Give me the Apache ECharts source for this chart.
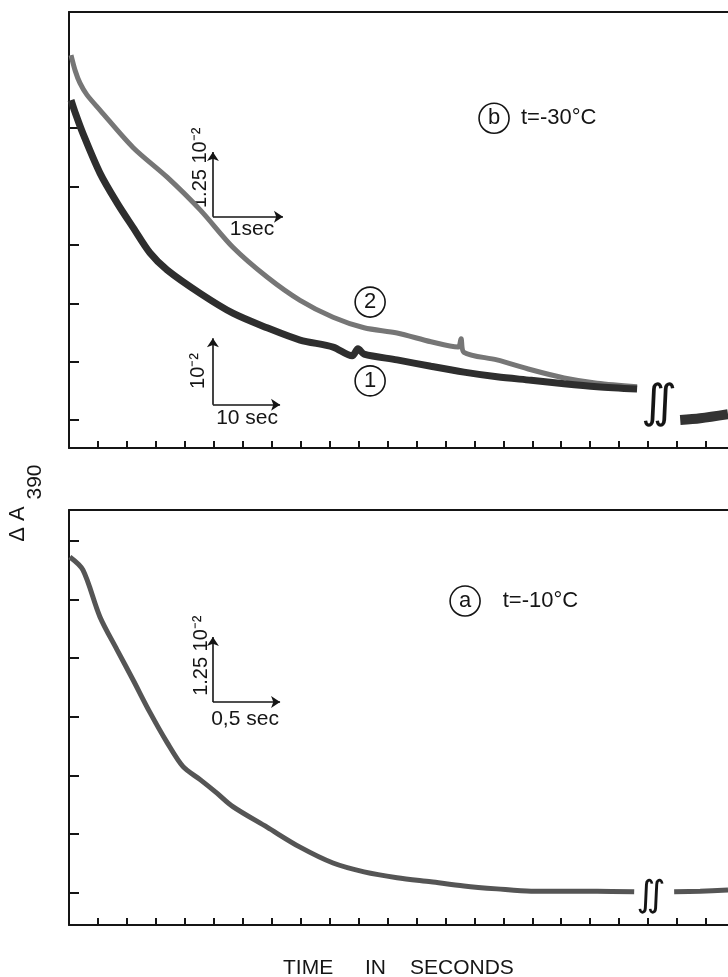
<!DOCTYPE html>
<html>
<head>
<meta charset="utf-8">
<title>ΔA390 - time in seconds</title>
<script src="https://cdn.jsdelivr.net/npm/echarts@6/dist/echarts.min.js"></script>
<style>
  html, body { margin: 0; padding: 0; background: #fff; }
  #chart { width: 728px; height: 977px; }
</style>
</head>
<body>
<div id="chart"></div>
<script>
// time in divisions of the recorder chart, absorbance in divisions of the y ticks
var xTicks = [1, 2, 3, 4, 5, 6, 7, 8, 9, 10, 11, 12, 13, 14, 15, 16, 17, 18, 19, 20, 21, 22];
var topTicks = [0, 1, 2, 3, 4, 5];
var bottomTicks = [0, 1, 2, 3, 4, 5, 6];

// (b) t = -30 °C, trace 1
var b1Time = [0.07, 0.21, 0.48, 1.07, 1.66, 2.21, 2.80, 3.39, 4.53, 5.66, 6.84, 7.98, 9.12, 9.78, 9.98, 10.19, 11.33, 12.50, 13.64, 14.78, 15.96, 17.10, 18.24, 19.62];
var b1Abs  = [5.48, 5.27, 4.91, 4.23, 3.72, 3.30, 2.86, 2.57, 2.17, 1.83, 1.58, 1.37, 1.25, 1.10, 1.22, 1.13, 1.03, 0.92, 0.82, 0.74, 0.68, 0.62, 0.57, 0.53];
// (b) trace 2
var b2Time = [0.07, 0.21, 0.38, 0.62, 1.07, 2.21, 3.39, 4.53, 5.66, 6.84, 7.98, 9.12, 10.19, 11.33, 12.50, 13.44, 13.54, 13.64, 14.78, 15.96, 17.10, 18.24, 19.62];
var b2Abs  = [6.25, 5.99, 5.77, 5.57, 5.31, 4.67, 4.16, 3.60, 2.96, 2.45, 2.05, 1.76, 1.58, 1.49, 1.34, 1.25, 1.39, 1.16, 1.03, 0.86, 0.72, 0.63, 0.57];
// (b) after the time break
var bTailTime = [21.11, 21.80, 22.76];
var bTailAbs  = [0.00, 0.03, 0.10];

// (a) t = -10 °C
var aTime = [0.03, 0.48, 1.07, 1.66, 2.21, 2.80, 3.39, 3.94, 4.53, 5.11, 5.66, 6.84, 7.98, 9.12, 10.19, 11.33, 12.50, 13.64, 14.78, 15.96, 17.10, 18.24, 19.52];
var aAbs  = [5.72, 5.50, 4.70, 4.14, 3.63, 3.07, 2.56, 2.15, 1.93, 1.70, 1.47, 1.12, 0.78, 0.51, 0.36, 0.26, 0.19, 0.12, 0.07, 0.03, 0.03, 0.03, 0.02];
var aTailTime = [20.90, 21.80, 22.76];
var aTailAbs  = [0.02, 0.03, 0.05];

function zip(xs, ys) {
    return xs.map(function (x, i) { return [x, ys[i]]; });
}

var ink = '#151515';
var font = "'Liberation Sans', Arial, sans-serif";

function xAxisOf(grid) {
    return {
        gridIndex: grid,
        type: 'value',
        min: 0,
        max: 22.76,
        axisLine: {show: true, onZero: false, lineStyle: {color: ink, width: 2}},
        axisTick: {show: true, inside: true, length: 7, customValues: xTicks, lineStyle: {color: ink, width: 2}},
        axisLabel: {show: false},
        splitLine: {show: false}
    };
}

function topBorder(grid) {
    return {
        gridIndex: grid, type: 'value', position: 'top', min: 0, max: 22.76,
        axisLine: {show: true, onZero: false, lineStyle: {color: ink, width: 2}},
        axisTick: {show: false}, axisLabel: {show: false}, splitLine: {show: false}
    };
}

function yAxisOf(grid, min, max, ticks) {
    return {
        gridIndex: grid, type: 'value', min: min, max: max,
        axisLine: {show: true, onZero: false, lineStyle: {color: ink, width: 2}},
        axisTick: {show: true, inside: true, length: 10, customValues: ticks, lineStyle: {color: ink, width: 2}},
        axisLabel: {show: false},
        splitLine: {show: false}
    };
}

function trace(xi, yi, data, width, color) {
    return {
        type: 'line', xAxisIndex: xi, yAxisIndex: yi, data: data,
        showSymbol: false, smooth: 0.3, silent: true,
        lineStyle: {width: width, color: color}
    };
}

function textLabel(pos, text, size, rotate, align) {
    return {
        value: pos, symbolSize: 1,
        itemStyle: {color: 'rgba(0,0,0,0)', opacity: 1},
        label: {
            show: true, position: 'inside', formatter: text, rotate: rotate || 0,
            align: align || 'center', verticalAlign: 'middle',
            fontSize: size, fontFamily: font, color: ink, opacity: 1
        }
    };
}

function circled(pos, text) {
    return {
        value: pos, symbol: 'circle', symbolSize: 30,
        itemStyle: {color: 'rgba(0,0,0,0)', borderColor: ink, borderWidth: 1.6, opacity: 1},
        label: {show: true, position: 'inside', formatter: text, fontSize: 22, fontFamily: font, color: ink, opacity: 1}
    };
}

function breakMark(pos, size) {
    return {
        value: pos, symbolSize: 1, itemStyle: {color: 'rgba(0,0,0,0)', opacity: 1},
        label: {show: true, position: 'inside', formatter: '\u222B', fontSize: size,
            fontFamily: "'DejaVu Sans', sans-serif", color: ink, opacity: 1}
    };
}

var arrows = {
    silent: true, animation: false,
    symbol: ['none', 'arrow'], symbolSize: 9,
    lineStyle: {color: ink, width: 1.6, type: 'solid', opacity: 1},
    label: {show: false}
};

var wordStyle = {fontSize: 21, fontFamily: font, fill: ink, align: 'left', verticalAlign: 'bottom'};

var chart = echarts.init(document.getElementById('chart'));
chart.setOption({
    animation: false,
    backgroundColor: '#ffffff',
    grid: [
        {left: 69, right: 0, top: 12, height: 436, outerBoundsMode: 'none'},
        {left: 69, right: 0, top: 510, height: 415, outerBoundsMode: 'none'}
    ],
    xAxis: [xAxisOf(0), topBorder(0), xAxisOf(1), topBorder(1)],
    yAxis: [yAxisOf(0, -0.48, 6.99, topTicks), yAxisOf(1, -0.545, 6.52, bottomTicks)],
    graphic: [
        {type: 'text', x: 18, y: 524, rotation: Math.PI / 2,
            style: {text: '\u0394 A', fontSize: 22, fontFamily: font, fill: ink, align: 'center', verticalAlign: 'middle'}},
        {type: 'text', x: 35, y: 482, rotation: Math.PI / 2,
            style: {text: '390', fontSize: 21, fontFamily: font, fill: ink, align: 'center', verticalAlign: 'middle'}},
        {type: 'text', x: 283, y: 979, style: Object.assign({text: 'TIME'}, wordStyle)},
        {type: 'text', x: 365, y: 979, style: Object.assign({text: 'IN'}, wordStyle)},
        {type: 'text', x: 410, y: 979, style: Object.assign({text: 'SECONDS'}, wordStyle)}
    ],
    series: [
        trace(0, 0, zip(b2Time, b2Abs), 5, '#767676'),
        trace(0, 0, zip(b1Time, b1Abs), 7, '#2e2e2e'),
        trace(0, 0, zip(bTailTime, bTailAbs), 10, '#333333'),
        trace(2, 1, zip(aTime, aAbs), 5, '#555555'),
        trace(2, 1, zip(aTailTime, aTailAbs), 5, '#555555'),
        {
            type: 'scatter', xAxisIndex: 0, yAxisIndex: 0, silent: true, clip: false,
            data: [
                textLabel([4.53, 4.32], '1.25 10\u207B\u00B2', 20, 90),
                textLabel([6.32, 3.27], '1sec', 21),
                textLabel([4.46, 0.84], '10\u207B\u00B2', 20, 90),
                textLabel([6.15, 0.03], '10 sec', 21),
                circled([10.40, 2.02], '2'),
                circled([10.40, 0.67], '1'),
                circled([14.68, 5.17], 'b'),
                textLabel([15.61, 5.17], 't=-30\u00B0C', 22, 0, 'left'),
                breakMark([20.18, 0.26], 46),
                breakMark([20.58, 0.26], 46)
            ],
            markLine: Object.assign({}, arrows, {
                data: [
                    [{coord: [4.97, 3.48]}, {coord: [4.97, 4.59]}],
                    [{coord: [4.97, 3.48]}, {coord: [7.39, 3.48]}],
                    [{coord: [4.97, 0.26]}, {coord: [4.97, 1.40]}],
                    [{coord: [4.97, 0.26]}, {coord: [7.29, 0.26]}]
                ]
            })
        },
        {
            type: 'scatter', xAxisIndex: 2, yAxisIndex: 1, silent: true, clip: false,
            data: [
                textLabel([4.59, 4.04], '1.25 10\u207B\u00B2', 20, 90),
                textLabel([6.08, 2.95], '0,5 sec', 21),
                circled([13.68, 4.97], 'a'),
                textLabel([14.98, 4.97], 't=-10\u00B0C', 22, 0, 'left'),
                breakMark([19.92, -0.07], 36),
                breakMark([20.28, -0.07], 36)
            ],
            markLine: Object.assign({}, arrows, {
                data: [
                    [{coord: [4.97, 3.25]}, {coord: [4.97, 4.36]}],
                    [{coord: [4.97, 3.25]}, {coord: [7.29, 3.25]}]
                ]
            })
        }
    ]
});
</script>
</body>
</html>
